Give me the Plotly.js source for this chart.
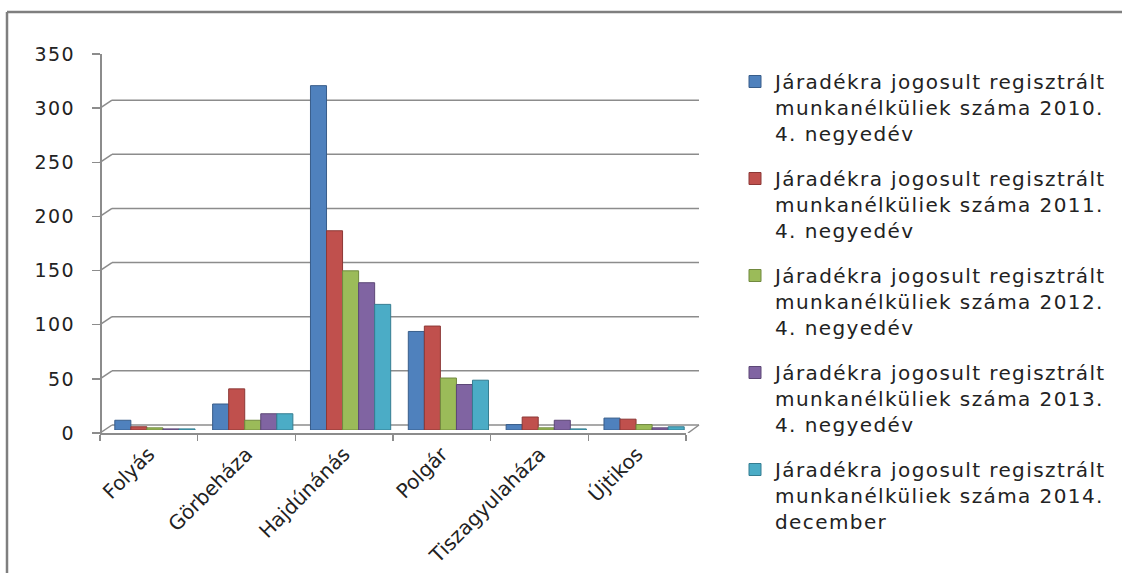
<!DOCTYPE html>
<html>
<head>
<meta charset="utf-8">
<script src="https://cdn.plot.ly/plotly-3.0.1.min.js"></script>
<style>
html,body{margin:0;padding:0;background:#fff;}
#chart{width:1122px;height:573px;}
.ytick text { letter-spacing: 1.5px; }
text.legendtext { letter-spacing: 1.4px; }
</style>
</head>
<body>
<div id="chart"></div>
<script>
const categories = ["Folyás", "Görbeháza", "Hajdúnánás", "Polgár", "Tiszagyulaháza", "Újtikos"];
const seriesNames = [
  "Járadékra jogosult regisztrált<br>munkanélküliek száma 2010.<br>4. negyedév",
  "Járadékra jogosult regisztrált<br>munkanélküliek száma 2011.<br>4. negyedév",
  "Járadékra jogosult regisztrált<br>munkanélküliek száma 2012.<br>4. negyedév",
  "Járadékra jogosult regisztrált<br>munkanélküliek száma 2013.<br>4. negyedév",
  "Járadékra jogosult regisztrált<br>munkanélküliek száma 2014.<br>december"
];
const values2010 = [9, 24, 318, 91, 5, 11];
const values2011 = [3, 38, 184, 96, 12, 10];
const values2012 = [2, 9, 147, 48, 2, 5];
const values2013 = [1, 15, 136, 42, 9, 2];
const values2014 = [1, 15, 116, 46, 1, 3];
const yTicks = [0, 50, 100, 150, 200, 250, 300, 350];

const seriesValues = [values2010, values2011, values2012, values2013, values2014];
const colors = ["#4F81BD", "#C0504D", "#9BBB59", "#8064A2", "#4BACC6"];
const edges = ["#385D8A", "#8C3836", "#71893F", "#5C4776", "#357D91"];

const W = 1122, H = 573;
const px = v => v / W;
const py = v => 1 - v / H;

const traces = seriesValues.map((vals, i) => ({
  type: "bar",
  name: seriesNames[i],
  x: categories,
  y: vals,
  xaxis: "x",
  yaxis: "y3",
  legendgroup: "g" + i,
  marker: {color: colors[i], line: {color: edges[i], width: 1}},
  hoverinfo: "x+y"
}));
// invisible helper trace registering the front (labelled) axes
traces.push({
  type: "scatter", mode: "none", x: categories, y: values2010,
  xaxis: "x2", yaxis: "y", showlegend: false, hoverinfo: "skip"
});

const gridColor = "#8c8c8c";
const shapes = [];
yTicks.forEach(v => {
  shapes.push({type: "line", xref: "paper", yref: "y", ysizemode: "pixel", yanchor: v,
    x0: px(112), x1: px(699), y0: 8, y1: 8, line: {color: gridColor, width: 1.5}, layer: "below"});
  shapes.push({type: "line", xref: "paper", yref: "y", ysizemode: "pixel", yanchor: v,
    x0: px(100), x1: px(112), y0: 0, y1: 8, line: {color: gridColor, width: 1.5}, layer: "below"});
});
shapes.push({type: "line", xref: "paper", yref: "y", ysizemode: "pixel", yanchor: 0,
  x0: px(688), x1: px(699), y0: 0, y1: 8, line: {color: gridColor, width: 1.5}, layer: "below"});
shapes.push({type: "line", xref: "paper", yref: "paper", x0: px(7), x1: px(7), y0: 0, y1: py(12),
  line: {color: "#7f7f7f", width: 2.5}});
shapes.push({type: "line", xref: "paper", yref: "paper", x0: px(7), x1: 1, y0: py(12), y1: py(12),
  line: {color: "#7f7f7f", width: 2.5}});

const font = "'DejaVu Sans', 'Open Sans', sans-serif";

const layout = {
  width: W, height: H,
  margin: {l: 0, r: 0, t: 0, b: 0},
  paper_bgcolor: "#ffffff",
  plot_bgcolor: "rgba(0,0,0,0)",
  font: {family: font, color: "#222222", size: 18},
  showlegend: true,
  barmode: "group",
  bargap: 0.18,
  bargroupgap: 0,
  xaxis: {
    domain: [px(106), px(693)],
    anchor: "y3",
    type: "category",
    categoryorder: "array", categoryarray: categories,
    range: [-0.5, 5.5],
    showticklabels: false, showgrid: false, zeroline: false, showline: false, ticks: ""
  },
  xaxis2: {
    domain: [px(100), px(686)],
    anchor: "y",
    type: "category",
    categoryorder: "array", categoryarray: categories,
    range: [-0.5, 5.5],
    showline: true, linecolor: gridColor, linewidth: 1.5,
    ticks: "outside", ticklen: 6, tickcolor: gridColor, tickwidth: 1.5,
    tickson: "boundaries",
    tickangle: -45,
    tickfont: {family: font, size: 20, color: "#222222"},
    showgrid: false, zeroline: false
  },
  yaxis: {
    domain: [py(433), py(54)],
    anchor: "free", position: px(100),
    range: [0, 350],
    tickvals: yTicks,
    ticktext: yTicks.map(String),
    showline: true, linecolor: gridColor, linewidth: 1.5,
    ticks: "outside", ticklen: 8, tickcolor: gridColor, tickwidth: 1.5,
    ticklabelstandoff: 13,
    tickfont: {family: font, size: 19, color: "#222222"},
    showgrid: false, zeroline: false
  },
  yaxis3: {
    domain: [py(430), py(51)],
    anchor: "x",
    range: [0, 350],
    visible: false,
    showgrid: false, zeroline: false
  },
  legend: {
    x: px(735), y: py(62), xanchor: "left", yanchor: "top",
    valign: "top",
    font: {family: font, size: 20, color: "#222222"},
    tracegroupgap: 16,
    itemwidth: 30,
    bgcolor: "rgba(0,0,0,0)"
  },
  shapes: shapes
};

Plotly.newPlot("chart", traces, layout, {displayModeBar: false, staticPlot: true});
</script>
</body>
</html>
